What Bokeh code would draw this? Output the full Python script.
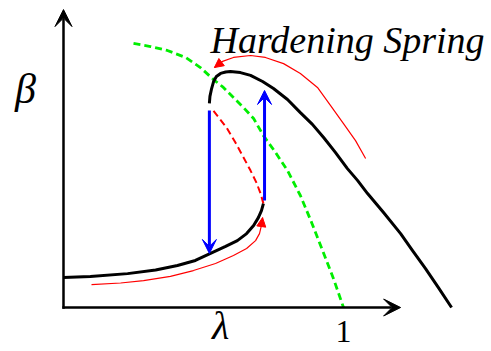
from bokeh.plotting import figure
from bokeh.models import Range1d, Arrow, VeeHead, NormalHead
from bokeh.core.properties import value
from bokeh.embed import file_html
from bokeh.resources import INLINE

# Frequency response of a hardening (Duffing) spring, in (lambda, beta) units
# Stable lower branch
low_lam = [0.0, 0.096, 0.229, 0.329, 0.407, 0.471, 0.525, 0.579, 0.621, 0.654, 0.679, 0.696, 0.707, 0.714]
low_beta = [0.107, 0.111, 0.121, 0.134, 0.150, 0.168, 0.193, 0.218, 0.239, 0.264, 0.293, 0.321, 0.346, 0.371]

# Unstable middle branch
mid_lam = [0.714, 0.704, 0.689, 0.668, 0.643, 0.614, 0.582, 0.554, 0.529]
mid_beta = [0.371, 0.407, 0.446, 0.489, 0.536, 0.589, 0.643, 0.679, 0.711]

# Stable upper branch
up_lam = [0.521, 0.523, 0.529, 0.536, 0.546, 0.561, 0.579, 0.596, 0.632, 0.668, 0.711, 0.750,
          0.800, 0.846, 0.889, 0.929, 0.971, 1.014, 1.050, 1.086, 1.143, 1.204, 1.246, 1.293,
          1.339, 1.386]
up_beta = [0.729, 0.754, 0.782, 0.807, 0.825, 0.836, 0.841, 0.843, 0.839, 0.829, 0.807, 0.782,
           0.743, 0.696, 0.654, 0.607, 0.554, 0.496, 0.454, 0.407, 0.339, 0.264, 0.204, 0.139,
           0.071, 0.0]

# Backbone curve
bb_lam = [0.250, 0.311, 0.371, 0.436, 0.489, 0.536, 0.571, 0.607, 0.643, 0.679, 0.714, 0.757,
          0.800, 0.846, 0.886, 0.925, 0.964, 1.000]
bb_beta = [0.943, 0.932, 0.918, 0.893, 0.857, 0.814, 0.786, 0.750, 0.714, 0.675, 0.614, 0.554,
           0.489, 0.400, 0.304, 0.204, 0.104, 0.0]

# Sweep-up path (increasing frequency)
sw_up_lam = [0.100, 0.204, 0.286, 0.382, 0.464, 0.543, 0.607, 0.654, 0.686, 0.700, 0.707, 0.711]
sw_up_beta = [0.082, 0.0875, 0.096, 0.111, 0.132, 0.157, 0.186, 0.211, 0.239, 0.264, 0.293, 0.321]

# Sweep-down path (decreasing frequency)
sw_dn_lam = [1.079, 1.043, 1.000, 0.954, 0.907, 0.846, 0.786, 0.721, 0.668, 0.607, 0.568, 0.539]
sw_dn_beta = [0.532, 0.596, 0.657, 0.721, 0.786, 0.836, 0.871, 0.893, 0.900, 0.893, 0.879, 0.857]

# Jumps: (lambda, beta_from, beta_to)
jump_down = (0.521, 0.704, 0.193)
jump_up = (0.718, 0.382, 0.775)

# Axis extents
lam_max = 1.204
beta_max = 1.064

BLACK = "#000000"
RED = "#ff0000"
GREEN = "#00ee00"
BLUE = "#0000ff"
SERIF = value("Liberation Serif")

p = figure(width=491, height=351, output_backend="svg", toolbar_location=None,
           x_range=Range1d(-0.225, 1.5286), y_range=Range1d(-0.1571, 1.0964),
           x_axis_type=None, y_axis_type=None, min_border=0,
           background_fill_color="white", border_fill_color="white")
p.grid.visible = False
p.outline_line_color = None

# Axes drawn as arrows
for (x0, y0, x1, y1) in [(0, -0.004, 0, beta_max), (-0.004, 0, lam_max, 0)]:
    p.add_layout(Arrow(x_start=x0, y_start=y0, x_end=x1, y_end=y1,
                       line_color=BLACK, line_width=2.5,
                       end=VeeHead(size=17, fill_color=BLACK, line_color=BLACK, line_width=1)))

# Backbone
p.line(bb_lam, bb_beta, line_color=GREEN, line_width=2.8, line_dash="7 4")

# Unstable branch
p.line(mid_lam, mid_beta, line_color=RED, line_width=2, line_dash="7 4")

# Stable branches
p.line(low_lam, low_beta, line_color=BLACK, line_width=3, line_join="round")
p.line(up_lam, up_beta, line_color=BLACK, line_width=3, line_join="round")

# Sweep paths
for lx, by in [(sw_up_lam, sw_up_beta), (sw_dn_lam, sw_dn_beta)]:
    p.line(lx, by, line_color=RED, line_width=1.2, line_join="round")
    p.add_layout(Arrow(x_start=lx[-2], y_start=by[-2], x_end=lx[-1], y_end=by[-1],
                       line_color=RED, line_width=1.2,
                       end=NormalHead(size=9, fill_color=RED, line_color=RED, line_width=1)))

# Jump arrows
for lam, b0, b1 in [jump_down, jump_up]:
    p.add_layout(Arrow(x_start=lam, y_start=b0, x_end=lam, y_end=b1,
                       line_color=BLUE, line_width=3,
                       end=VeeHead(size=14, fill_color=BLUE, line_color=BLUE, line_width=1)))

# Labels
p.text(x=[-0.136], y=[0.782], text=["β"], text_font=SERIF, text_font_size="42px",
       text_font_style="italic", text_align="center", text_baseline="middle", text_color=BLACK)
p.text(x=[0.561], y=[-0.064], text=["λ"], text_font=SERIF, text_font_size="40px",
       text_font_style="italic", text_align="center", text_baseline="middle", text_color=BLACK)
p.text(x=[1.0], y=[-0.084], text=["1"], text_font=SERIF, text_font_size="32px",
       text_align="center", text_baseline="middle", text_color=BLACK)
p.text(x=[0.525], y=[0.954], text=["Hardening Spring"], text_font=SERIF,
       text_font_size="38px", text_font_style="italic", text_align="left",
       text_baseline="alphabetic", text_color=BLACK)

open("out.html", "w").write(file_html(p, INLINE))
